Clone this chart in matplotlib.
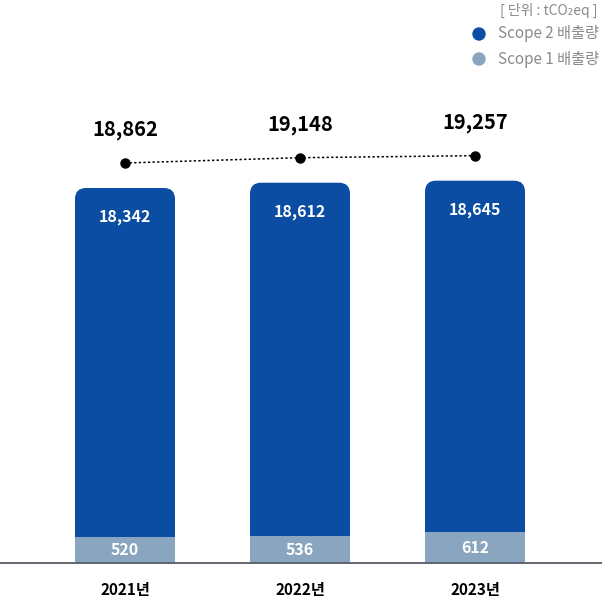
import matplotlib.pyplot as plt
import numpy as np
from matplotlib.patches import FancyBboxPatch
import matplotlib.transforms as mtransforms

plt.rcParams["font.family"] = ["Noto Sans CJK KR", "DejaVu Sans"]

years = ["2021년", "2022년", "2023년"]
scope1 = [520, 536, 612]
scope2 = [18342, 18612, 18645]
totals = [18862, 19148, 19257]

dark_blue = "#0b4da2"
light_blue = "#8aa5c0"
grey_text = "#8a8a8a"

# y scale: small values stretched a bit so the scope 1 labels fit
A, B = 0.05, 800.0
K = (375 - A * B) / (18862 - B)


def forward(y):
    y = np.asarray(y, dtype=float)
    return np.where(y <= B, y * A, B * A + (y - B) * K)


def inverse(p):
    p = np.asarray(p, dtype=float)
    return np.where(p <= B * A, p / A, B + (p - B * A) / K)


fig = plt.figure(figsize=(6.02, 6.0), dpi=100)
ax = fig.add_axes([0, 0, 1, 1])
ax.set_yscale("function", functions=(forward, inverse))
ax.set_xlim(-125 / 175, (602 - 125) / 175)
ax.set_ylim(float(inverse(-37)), float(inverse(563)))
ax.axis("off")

x = np.arange(len(years))
bw = 100 / 175

# scope 2 bars with rounded tops (drawn in pixel space)
for xi, s1, s2 in zip(x, scope1, scope2):
    x0, y0 = ax.transData.transform((xi - bw / 2, 0))
    x1, y1 = ax.transData.transform((xi + bw / 2, s1 + s2))
    box = FancyBboxPatch((x0, y0), x1 - x0, y1 - y0,
                         boxstyle="round,pad=0,rounding_size=11",
                         transform=None, facecolor=dark_blue,
                         edgecolor="none", zorder=2)
    ax.add_artist(box)

ax.bar(x, scope1, width=bw, color=light_blue, zorder=3)

# baseline
ax.axhline(0, color="#555b63", lw=1.3, zorder=4)

for xi, s1, s2, t, yr in zip(x, scope1, scope2, totals, years):
    ax.annotate(f"{s2:,}", (xi, t), xytext=(0, -29), textcoords="offset pixels",
                ha="center", va="center", color="white", fontsize=11.5,
                fontweight="bold", zorder=5)
    ax.annotate(f"{s1}", (xi, s1 / 2), ha="center", va="center",
                color="white", fontsize=11.5, fontweight="bold", zorder=5)
    ax.annotate(f"{t:,}", (xi, t), xytext=(0, 58), textcoords="offset pixels",
                ha="center", va="center", color="black", fontsize=14.5,
                fontweight="bold", zorder=5)
    ax.annotate(yr, (xi, 0), xytext=(0, -27), textcoords="offset pixels",
                ha="center", va="center", color="black", fontsize=11,
                fontweight="bold", zorder=5)

# total trend line, lifted above the bars
up = mtransforms.offset_copy(ax.transData, fig=fig, x=0, y=25, units="dots")
ax.plot(x, totals, color="black", lw=1.1, ls=(0, (1.5, 1.5)),
        marker="o", markersize=6.5, transform=up, zorder=5)

# legend / unit
fig.text(598 / 602, 1 - 10 / 600, "[ 단위 : tCO₂eq ]", ha="right", va="center",
         fontsize=10, color=grey_text)
legend = [("Scope 2 배출량", dark_blue, 34), ("Scope 1 배출량", light_blue, 59)]
for label, col, py in legend:
    fig.patches.append(plt.Circle((479, 600 - py), 6, transform=None,
                                  color=col, figure=fig))
    fig.text(498 / 602, 1 - py / 600, label, ha="left", va="center",
             fontsize=11, color=grey_text)

fig.savefig("out.png", dpi=100)
